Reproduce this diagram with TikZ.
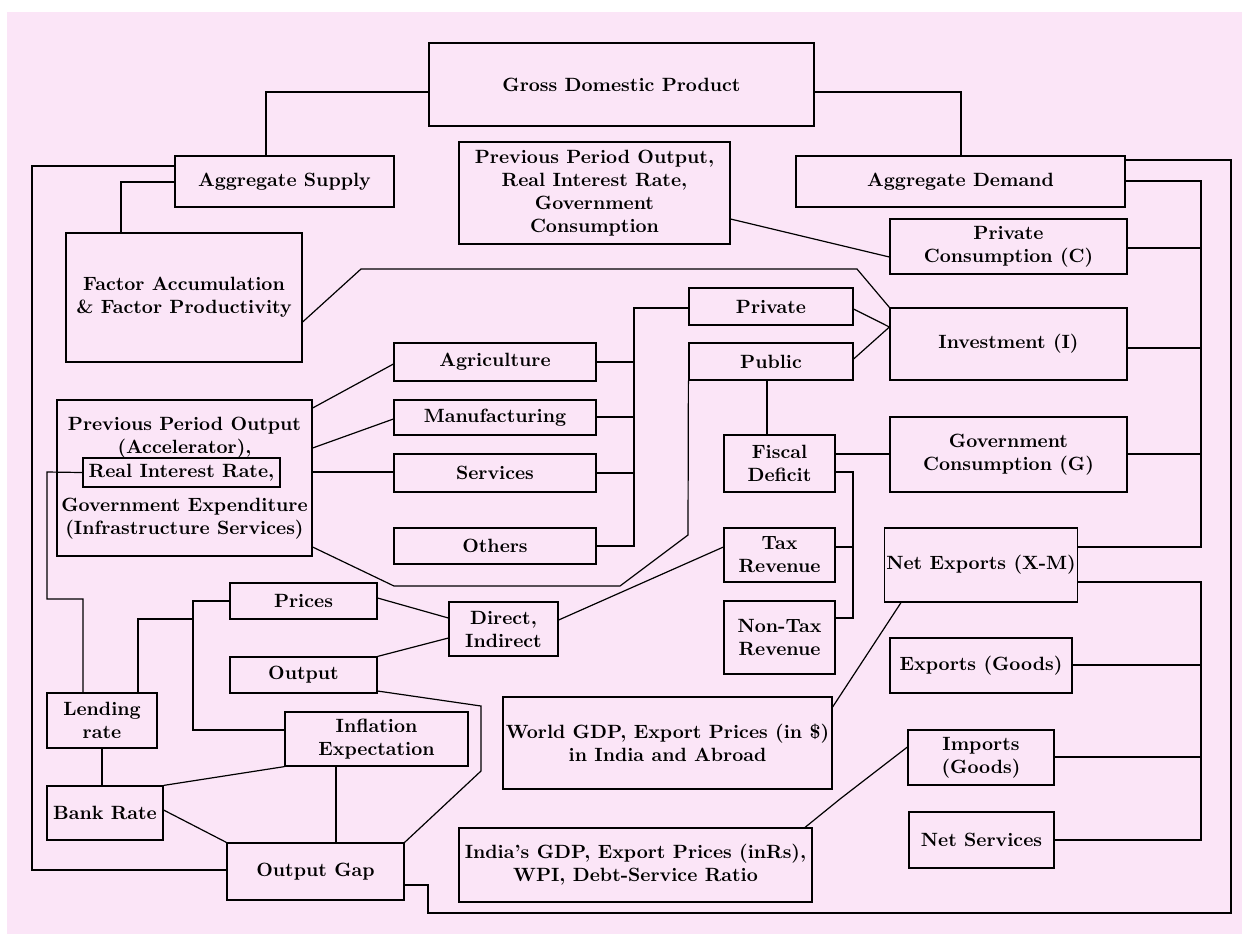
\documentclass[tikz,border=0pt]{standalone}
\usepackage{amsmath}
\usepackage{tikz}

\definecolor{bgpink}{RGB}{251,229,247}

\begin{document}
\begin{tikzpicture}[x=0.5pt, y=-0.5pt,
            box/.style 2 args={draw, line width=0.6pt, inner sep=1pt, align=center,
                minimum width=#1*0.5pt, minimum height=#2*0.5pt,
                font=\fontsize{9.6}{11.5}\selectfont\bfseries},
            link/.style={line width=0.6pt}]
            % Background
            \useasboundingbox (0,0) rectangle (1242,934);
            \fill[white] (0,0) rectangle (1242,934);
            \fill[bgpink] (7,12) rectangle (1242,934);

            % Top row
            \node[box={385}{83}] (gdp) at (621.5,84.5) {Gross Domestic Product};
            \node[box={219}{51}] (as) at (284.5,181.5) {Aggregate Supply};
            \node[box={329}{51}] (ad) at (960.5,181.5) {Aggregate Demand};
            \node[box={271}{102}] (ppo1) at (594.5,193) {Previous Period Output,\\Real Interest Rate,\\Government\\Consumption};
            \node[box={237}{55}] (pc) at (1008.5,246.5) {Private\\Consumption (C)};
            \node[box={236}{129}] (fac) at (184,297.5) {Factor Accumulation\\\& Factor Productivity};

            % Investment and sectors
            \node[box={164}{37}] (priv) at (771,306.5) {Private};
            \node[box={164}{37}] (pub) at (771,361.5) {Public};
            \node[box={237}{72}] (inv) at (1008.5,344) {Investment (I)};
            \node[box={202}{38}] (agr) at (495,362) {Agriculture};
            \node[box={202}{35}] (man) at (495,417.5) {Manufacturing};
            \node[box={202}{38}] (ser) at (495,473) {Services};
            \node[box={202}{36}] (oth) at (495,546) {Others};
            \node[box={255}{156}] (ppo2) at (184.5,478) {Previous Period Output\\(Accelerator),\\[3pt]\phantom{X}\\[3pt]Government Expenditure\\(Infrastructure Services)};
            \node[box={197}{29}] (rir) at (181.5,472.5) {Real Interest Rate,};

            % Government
            \node[box={111}{57}] (fd) at (779.5,463.5) {Fiscal\\Deficit};
            \node[box={237}{75}] (gc) at (1008.5,454.5) {Government\\Consumption (G)};
            \node[box={111}{54}] (tax) at (779.5,555) {Tax\\Revenue};
            \node[box={111}{73}] (ntax) at (779.5,637.5) {Non-Tax\\Revenue};
            \node[box={182}{74}] (nx) at (981,565) {Net Exports (X-M)};
            \node[box={109}{54}] (dir) at (503.5,629) {Direct,\\Indirect};

            % Bottom left
            \node[box={147}{36}] (pri) at (303.5,601) {Prices};
            \node[box={147}{36}] (out) at (303.5,675) {Output};
            \node[box={183}{54}] (inf) at (376.5,739) {Inflation\\Expectation};
            \node[box={110}{55}] (lend) at (102,720.5) {Lending\\rate};
            \node[box={116}{54}] (bank) at (105,813) {Bank Rate};
            \node[box={177}{57}] (gap) at (315.5,871.5) {Output Gap};

            % Bottom right
            \node[box={329}{92}] (wgdp) at (667.5,743) {World GDP, Export Prices (in \$)\\in India and Abroad};
            \node[box={353}{74}] (igdp) at (635.5,865) {India's GDP, Export Prices (inRs),\\WPI, Debt-Service Ratio};
            \node[box={182}{55}] (exp) at (981,665.5) {Exports (Goods)};
            \node[box={146}{55}] (imp) at (981,757.5) {Imports\\(Goods)};
            \node[box={145}{56}] (nsv) at (981.5,840) {Net Services};

            % GDP links
            \draw[link] (gdp.west |- 0,92) -| (as.north -| 266,0);
            \draw[link] (gdp.east |- 0,92) -| (ad.north -| 961,0);
            \draw[link] (as.west |- 0,166) -- (32,166) -- (32,870) -- (gap.west |- 0,870);
            \draw[link] (as.west |- 0,182) -| (fac.north -| 121,0);
            \draw[link] (fac.east |- 0,322) -- (361,269) -- (857,269) -- (inv.north west);
            \draw[link] (ppo1.east |- 0,219) -- (pc.west |- 0,257);

            % Demand buses
            \draw[link] (ad.east |- 0,160) -- (1231,160) -- (1231,913) -- (428,913) -- (428,885) -- (gap.east |- 0,885);
            \draw[link] (ad.east |- 0,181) -- (1201,181) -- (1201,547) -- (nx.east |- 0,547);
            \draw[link] (pc.east |- 0,248) -- (1201,248);
            \draw[link] (inv.east |- 0,348) -- (1201,348);
            \draw[link] (gc.east |- 0,454) -- (1201,454);
            \draw[link] (nx.east |- 0,582) -- (1201,582) -- (1201,840) -- (nsv.east);
            \draw[link] (exp.east |- 0,665) -- (1201,665);
            \draw[link] (imp.east |- 0,757) -- (1201,757);

            % Investment
            \draw[link] (priv.west |- 0,308) -- (634,308) -- (634,546) -- (oth.east);
            \draw[link] (agr.east) -- (agr.east -| 634,0);
            \draw[link] (man.east |- 0,417) -- (634,417);
            \draw[link] (ser.east) -- (ser.east -| 634,0);
            \draw[link] (priv.east |- 0,309) -- (inv.west |- 0,327);
            \draw[link] (pub.east |- 0,359) -- (inv.west |- 0,327);
            \draw[link] (pub.south west) -- (688,535) -- (620,586) -- (394,586) -- (ppo2.east |- 0,547);
            \draw[link] (ppo2.east |- 0,408) -- (agr.west |- 0,364);
            \draw[link] (ppo2.east |- 0,448) -- (man.west |- 0,419);
            \draw[link] (ppo2.east |- 0,472) -- (ser.west |- 0,472);

            % Fiscal
            \draw[link] (pub.south -| 767,0) -- (fd.north -| 767,0);
            \draw[link] (fd.east |- 0,454) -- (gc.west |- 0,454);
            \draw[link] (fd.east |- 0,472) -- (853,472) -- (853,618) -- (ntax.east |- 0,618);
            \draw[link] (tax.east |- 0,547) -- (853,547);
            \draw[link] (dir.east |- 0,620) -- (tax.west |- 0,547);
            \draw[link] (pri.east |- 0,598) -- (dir.west |- 0,618);
            \draw[link] (out.north east) -- (dir.west |- 0,638);

            % Monetary side
            \draw[link] (out.east |- 0,691) -- (481,706) -- (481,771) -- (gap.north east);
            \draw[link] (pri.west |- 0,601) -- (193,601) -- (193,730) -- (inf.west |- 0,730);
            \draw[link] (193,619) -- (138,619) -- (lend.north -| 138,0);
            \draw[link] (rir.west) -- (47,472) -- (47,599) -- (83,599) -- (lend.north -| 83,0);
            \draw[link] (lend.south) -- (lend.south |- bank.north);
            \draw[link] (bank.north east) -- (inf.south west);
            \draw[link] (bank.east |- 0,810) -- (gap.north west);
            \draw[link] (inf.south -| 336,0) -- (gap.north -| 336,0);

            % Trade
            \draw[link] (wgdp.east |- 0,707) -- (nx.south -| 901,0);
            \draw[link] (igdp.north -| 805,0) -- (840,799) -- (imp.west |- 0,747);

        \end{tikzpicture}
\end{document}
